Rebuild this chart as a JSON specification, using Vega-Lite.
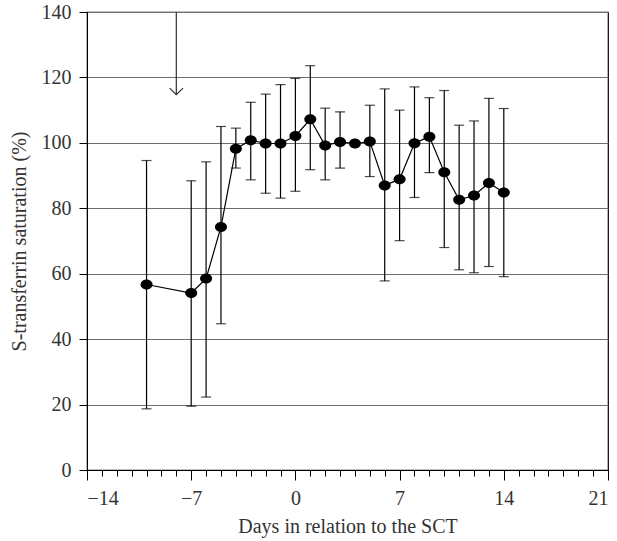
{
  "$schema": "https://vega.github.io/schema/vega-lite/v6.json",
  "width": 521,
  "height": 458,
  "autosize": {"type": "none"},
  "padding": {"left": 87, "top": 12, "right": 9, "bottom": 71},
  "config": {
    "font": "Liberation Serif",
    "view": {"stroke": "#000", "strokeWidth": 1.2},
    "axis": {
      "labelFont": "Liberation Serif",
      "titleFont": "Liberation Serif",
      "labelFontSize": 20,
      "titleFontSize": 20,
      "titleFontWeight": "normal",
      "labelColor": "#333",
      "titleColor": "#333",
      "tickColor": "#000",
      "domainColor": "#000",
      "gridColor": "#6e6e6e",
      "gridWidth": 1.2
    }
  },
  "datasets": {
    "sat": [
      {"day": -10, "sat": 56.7, "lo": 18.7, "hi": 94.6},
      {"day": -7, "sat": 54.1, "lo": 19.5, "hi": 88.4},
      {"day": -6, "sat": 58.5, "lo": 22.3, "hi": 94.2},
      {"day": -5, "sat": 74.3, "lo": 44.7, "hi": 105.0},
      {"day": -4, "sat": 98.2, "lo": 92.3, "hi": 104.5},
      {"day": -3, "sat": 100.8, "lo": 88.7, "hi": 112.4},
      {"day": -2, "sat": 99.8, "lo": 84.6, "hi": 114.9},
      {"day": -1, "sat": 99.8, "lo": 83.1, "hi": 117.8},
      {"day": 0, "sat": 102.1, "lo": 85.2, "hi": 119.7},
      {"day": 1, "sat": 107.2, "lo": 91.8, "hi": 123.6},
      {"day": 2, "sat": 99.2, "lo": 88.7, "hi": 110.6},
      {"day": 3, "sat": 100.3, "lo": 92.3, "hi": 109.5},
      {"day": 4, "sat": 99.8, "lo": null, "hi": null},
      {"day": 5, "sat": 100.4, "lo": 89.7, "hi": 111.5},
      {"day": 6, "sat": 87.0, "lo": 57.8, "hi": 116.5},
      {"day": 7, "sat": 88.9, "lo": 70.1, "hi": 110.0},
      {"day": 8, "sat": 99.9, "lo": 83.3, "hi": 117.1},
      {"day": 9, "sat": 101.9, "lo": 90.9, "hi": 113.8},
      {"day": 10, "sat": 91.0, "lo": 68.0, "hi": 116.0},
      {"day": 11, "sat": 82.6, "lo": 61.2, "hi": 105.4},
      {"day": 12, "sat": 83.9, "lo": 60.3, "hi": 106.7},
      {"day": 13, "sat": 87.7, "lo": 62.2, "hi": 113.6},
      {"day": 14, "sat": 84.8, "lo": 59.1, "hi": 110.5}
    ],
    "arrow": [
      {"day": -8, "top": 140, "tip": 114.7}
    ]
  },
  "resolve": {"axis": {"x": "independent"}},
  "layer": [
    {
      "data": {"name": "sat"},
      "transform": [{"filter": "datum.lo != null"}],
      "mark": {"type": "rule", "color": "#000", "strokeWidth": 1.2},
      "encoding": {
        "x": {
          "field": "day", "type": "quantitative",
          "scale": {"domain": [-14, 21], "nice": false, "zero": false},
          "axis": {
            "orient": "bottom",
            "values": [-14, -7, 0, 7, 14, 21],
            "format": "d",
            "labelExpr": "replace(datum.label, '-', '\u2212')",
            "tickSize": 10,
            "labelPadding": 8,
            "grid": false,
            "title": "Days in relation to the SCT",
            "titlePadding": 8
          }
        },
        "y": {
          "field": "lo", "type": "quantitative",
          "scale": {"domain": [0, 140], "nice": false},
          "axis": {
            "values": [0, 20, 40, 60, 80, 100, 120, 140],
            "tickSize": 8,
            "labelPadding": 8,
            "grid": true,
            "title": "S-transferrin saturation (%)",
            "titlePadding": 12
          }
        },
        "y2": {"field": "hi"}
      }
    },
    {
      "data": {"name": "sat"},
      "transform": [{"filter": "datum.lo != null"}],
      "mark": {"type": "tick", "orient": "horizontal", "color": "#000", "size": 10, "thickness": 1.2},
      "encoding": {
        "x": {
          "field": "day", "type": "quantitative",
          "axis": {
            "orient": "bottom",
            "values": [-14,-13,-12,-11,-10,-9,-8,-7,-6,-5,-4,-3,-2,-1,0,1,2,3,4,5,6,7,8,9,10,11,12,13,14,15,16,17,18,19,20,21],
            "labels": false,
            "tickSize": 6,
            "domain": false,
            "grid": false,
            "title": null
          }
        },
        "y": {"field": "lo", "type": "quantitative"}
      }
    },
    {
      "data": {"name": "sat"},
      "transform": [{"filter": "datum.hi != null"}],
      "mark": {"type": "tick", "orient": "horizontal", "color": "#000", "size": 10, "thickness": 1.2},
      "encoding": {
        "x": {"field": "day", "type": "quantitative", "axis": null},
        "y": {"field": "hi", "type": "quantitative"}
      }
    },
    {
      "data": {"name": "sat"},
      "mark": {"type": "line", "color": "#000", "strokeWidth": 1.2},
      "encoding": {
        "x": {"field": "day", "type": "quantitative", "axis": null},
        "y": {"field": "sat", "type": "quantitative"}
      }
    },
    {
      "data": {"name": "sat"},
      "mark": {
        "type": "point",
        "filled": true,
        "color": "#000",
        "opacity": 1,
        "size": 100,
        "shape": "M-1.2,0A1.2,1,0,1,0,1.2,0A1.2,1,0,1,0,-1.2,0Z"
      },
      "encoding": {
        "x": {"field": "day", "type": "quantitative", "axis": null},
        "y": {"field": "sat", "type": "quantitative"}
      }
    },
    {
      "data": {"name": "arrow"},
      "mark": {"type": "rule", "color": "#333", "strokeWidth": 1.2},
      "encoding": {
        "x": {"field": "day", "type": "quantitative", "axis": null},
        "y": {"field": "top", "type": "quantitative"},
        "y2": {"field": "tip"}
      }
    },
    {
      "data": {"name": "arrow"},
      "mark": {
        "type": "point",
        "filled": false,
        "color": "#333",
        "opacity": 1,
        "strokeWidth": 1.2,
        "size": 180,
        "shape": "M-1,-1L0,0L1,-1"
      },
      "encoding": {
        "x": {"field": "day", "type": "quantitative", "axis": null},
        "y": {"field": "tip", "type": "quantitative"}
      }
    }
  ]
}
